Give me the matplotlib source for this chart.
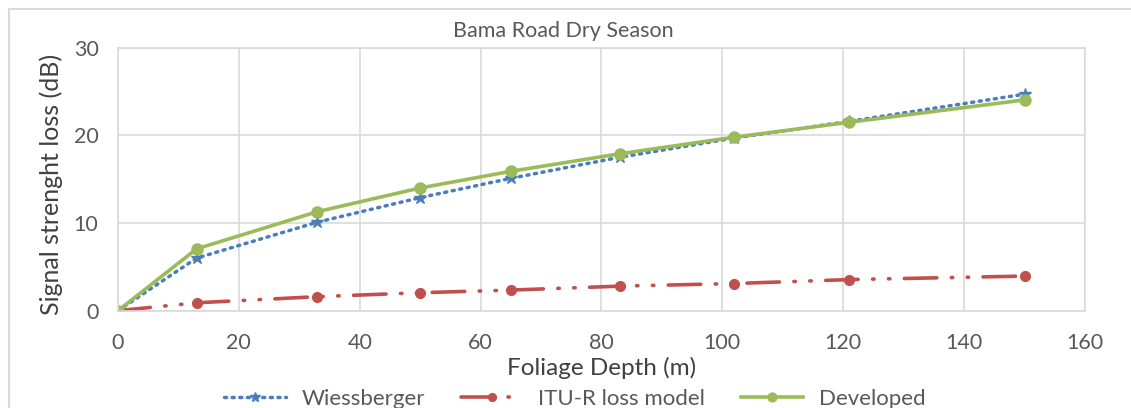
import matplotlib.pyplot as plt
from matplotlib.patches import Rectangle

depth = [0, 13, 33, 50, 65, 83, 102, 121, 150]
wiessberger = [0, 6.0, 10.1, 12.9, 15.1, 17.5, 19.7, 21.6, 24.7]
itu_r = [0, 0.9, 1.6, 2.05, 2.35, 2.8, 3.1, 3.55, 3.95]
developed = [0, 7.05, 11.3, 14.0, 15.9, 17.9, 19.8, 21.5, 24.05]

x_ticks = [0, 20, 40, 60, 80, 100, 120, 140, 160]
y_ticks = [0, 10, 20, 30]

plt.rcParams['font.family'] = ['Lato', 'DejaVu Sans']

fig = plt.figure(figsize=(11.31, 4.08), dpi=100)
ax = fig.add_axes([0.1043, 0.2385, 0.855, 0.6445])

# outer chart border
fig.patches.append(Rectangle((9 / 1131, -0.1), 1.2, 1 - 9 / 408 + 0.1,
                             transform=fig.transFigure, fill=False,
                             edgecolor='#d9d9d9', linewidth=1.5))

ax.plot(depth, wiessberger, color='#4a7ebb', linestyle=(0, (0.6, 1.6)),
        linewidth=2.5, marker='*', markersize=9, label='Wiessberger',
        dash_capstyle='round')
ax.plot(depth, itu_r, color='#c0504d', linestyle=(0, (9, 4, 0.4, 4, 0.4, 4)),
        linewidth=2.6, marker='o', markersize=7, label='ITU-R loss model',
        dash_capstyle='round')
ax.plot(depth, developed, color='#9bbb59', linestyle='-', linewidth=2.6,
        marker='o', markersize=8, label='Developed')

ax.set_xlim(0, 160)
ax.set_ylim(0, 30)
ax.set_xticks(x_ticks)
ax.set_yticks(y_ticks)
ax.grid(True, color='#d9d9d9', linewidth=1.2)
ax.set_axisbelow(True)
for s in ax.spines.values():
    s.set_color('#d9d9d9')
    s.set_linewidth(1.2)
ax.tick_params(length=0, labelsize=15.5, labelcolor='#595959')
ax.tick_params(axis='x', pad=16)
ax.tick_params(axis='y', pad=14)

ax.set_xlabel('Foliage Depth (m)', fontsize=17.5, color='#404040', va='center')
ax.xaxis.set_label_coords(0.5, -0.218)
ax.set_ylabel('Signal strenght loss (dB)', fontsize=18, color='#404040', va='center')
ax.yaxis.set_label_coords(-0.0693, 0.48)
fig.text(0.498, 0.925, 'Bama Road Dry Season', ha='center', va='center',
         fontsize=15.5, color='#595959')

fig.legend(loc='center', bbox_to_anchor=(0.508, 0.022), ncol=3, frameon=False,
           fontsize=16, handlelength=2.8, columnspacing=1.6, markerscale=0.8,
           labelcolor='#595959', handletextpad=0.7)

fig.savefig('out.png', dpi=100)
